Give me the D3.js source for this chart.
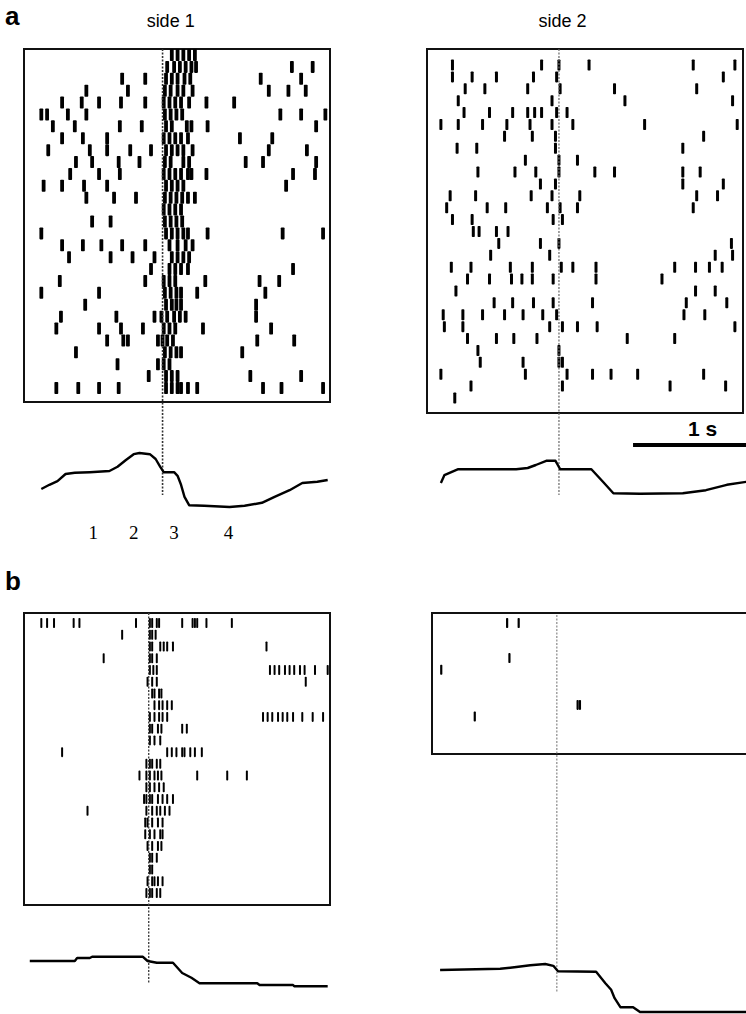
<!DOCTYPE html>
<html>
<head>
<meta charset="UTF-8">
<title>side 1 / side 2 rasters</title>
<script src="https://cdn.jsdelivr.net/npm/d3@7"></script>
<style>
body { margin: 0; background: #fff; }
svg { display: block; }
</style>
</head>
<body>
<div id="chart"></div>
<script>
// spike times in seconds, 0 = event (dotted line), one array per trial
var a1Trials = [
  [0.08,0.13,0.18,0.23,0.28],
  [0.04,0.10,0.15,0.20,0.25,0.29,1.12,1.30],
  [-0.35,-0.15,0.03,0.08,0.13,0.19,0.24,0.85,1.20],
  [-0.66,-0.30,0.02,0.07,0.13,0.18,0.26,0.92,1.09,1.24],
  [-0.87,-0.70,-0.55,-0.36,-0.15,0.01,0.06,0.11,0.16,0.23,0.38,0.62],
  [-1.05,-1.00,-0.82,-0.66,0.02,0.07,0.12,0.17,1.02,1.20,1.41],
  [-0.95,-0.76,-0.37,-0.18,0.03,0.08,0.21,0.25,0.39,1.33],
  [-0.87,-0.69,-0.48,0.01,0.06,0.11,0.16,0.22,0.67,0.95],
  [-0.99,-0.63,-0.48,-0.28,-0.10,0.03,0.08,0.13,0.18,0.26,0.92,1.25],
  [-0.75,-0.61,-0.38,-0.20,0.02,0.07,0.18,0.23,0.72,0.87,1.33],
  [-0.80,-0.55,-0.37,0.01,0.06,0.11,0.16,0.22,0.25,0.38,1.13,1.32],
  [-1.03,-0.87,-0.68,-0.48,0.03,0.08,0.13,0.18,1.07],
  [-0.66,-0.42,-0.23,0.02,0.07,0.12,0.17,0.22,0.28],
  [0.01,0.06,0.11,0.16],
  [-0.61,-0.45,0.02,0.07,0.12,0.17],
  [-1.05,0.03,0.08,0.13,0.18,0.22,0.39,1.04,1.39],
  [-0.87,-0.69,-0.53,-0.35,-0.15,0.06,0.13,0.20,0.26],
  [-0.81,-0.45,-0.26,-0.07,0.08,0.13,0.18,0.23],
  [-0.10,0.06,0.11,0.16,0.22,1.13],
  [-0.89,-0.15,0.01,0.06,0.11,0.37,0.84,1.01],
  [-1.05,-0.55,0.02,0.07,0.12,0.16,0.30,0.89],
  [-0.67,0.03,0.08,0.12,0.16,0.81],
  [-0.88,-0.40,-0.07,-0.01,0.04,0.10,0.15,0.20,0.81],
  [-0.92,-0.55,-0.36,-0.17,0.01,0.06,0.11,0.35,0.94],
  [-0.48,-0.34,-0.30,-0.04,0.00,0.04,0.09,0.82,1.14],
  [-0.75,0.02,0.07,0.12,0.16,0.69],
  [-0.39,-0.04,0.01,0.06],
  [-0.12,0.03,0.08,0.13,0.76,1.20],
  [-0.92,-0.73,-0.55,-0.38,0.03,0.08,0.13,0.16,0.22,0.30,0.87,1.03,1.39]
];
var a2Trials = [
  [-0.92,-0.15,0.00,0.26,1.16,1.52],
  [-0.92,-0.75,-0.54,-0.22,-0.02,1.42],
  [-0.81,-0.64,-0.27,0.01,0.48,1.19],
  [-0.87,-0.06,0.57,1.50],
  [-0.82,-0.60,-0.40,-0.27,-0.21,-0.15,-0.02,0.07],
  [-1.02,-0.87,-0.66,-0.45,-0.25,-0.06,0.12,0.74,1.54],
  [-0.47,-0.23,-0.03,1.25],
  [-0.88,-0.71,-0.03,1.07],
  [-0.29,0.00,0.16],
  [-0.70,-0.38,-0.20,0.00,0.31,0.48,1.07,1.22],
  [-0.16,-0.03,1.07,1.42],
  [-0.94,-0.72,-0.24,-0.06,0.18,1.19,1.37],
  [-0.97,-0.62,-0.46,-0.10,0.01,0.16,1.16],
  [-0.92,-0.75,-0.05,0.03],
  [-0.74,-0.69,-0.54,-0.44],
  [-0.52,-0.16,0.00,1.49],
  [-0.59,-0.08,1.35,1.50],
  [-0.93,-0.76,-0.42,-0.23,0.02,0.12,0.32,1.00,1.18,1.30,1.41],
  [-0.79,-0.60,-0.41,-0.32,-0.23,-0.05,0.32,0.89],
  [-0.89,1.18,1.35],
  [-0.56,-0.40,-0.22,-0.05,0.29,1.10,1.45],
  [-1.00,-0.83,-0.66,-0.47,-0.31,-0.14,-0.02,1.08,1.26],
  [-0.99,-0.83,-0.08,0.03,0.16,0.33,1.52],
  [-0.79,-0.54,-0.39,-0.19,0.59,1.00],
  [-0.70,0.00],
  [-0.68,-0.31,0.00,0.03],
  [-1.02,-0.29,0.07,0.29,0.45,0.68,1.25],
  [-0.76,0.03,0.96,1.44],
  [-0.90]
];
var b1Trials = [
  [-0.93,-0.88,-0.82,-0.65,-0.60,-0.11,0.01,0.03,0.07,0.09,0.29,0.38,0.40,0.42,0.50,0.72],
  [-0.23,0.01,0.03,0.06],
  [0.01,0.03,0.10,0.13,0.16,0.21,1.02],
  [-0.39,0.01,0.03,0.07],
  [0.01,0.04,0.07,1.05,1.09,1.13,1.18,1.22,1.26,1.31,1.35,1.44,1.55],
  [-0.01,0.03,0.07,1.36],
  [0.03,0.05,0.09,0.11],
  [0.05,0.09,0.12,0.16,0.20],
  [0.01,0.05,0.09,0.12,0.16,0.99,1.03,1.07,1.12,1.16,1.20,1.25,1.33,1.42,1.51],
  [0.01,0.03,0.08,0.11,0.29,0.33],
  [0.01,0.05,0.10],
  [-0.75,0.16,0.20,0.24,0.29,0.31,0.36,0.40,0.46],
  [-0.02,0.01,0.03,0.07,0.10],
  [-0.08,-0.02,0.01,0.05,0.08,0.11,0.42,0.68,0.85],
  [-0.02,0.01,0.05,0.09,0.13],
  [-0.04,-0.02,0.01,0.03,0.08,0.12,0.16,0.21],
  [-0.53,-0.02,0.03,0.07,0.10,0.14,0.18],
  [-0.03,-0.01,0.03,0.08,0.12],
  [-0.03,0.01,0.05,0.10,0.12],
  [-0.01,0.03,0.08,0.11],
  [0.01,0.03,0.07],
  [0.01,0.03],
  [-0.01,0.03,0.05,0.08,0.12],
  [-0.02,0.01,0.03,0.07,0.10]
];
var b2Trials = [
  [-0.43,-0.33], [], [], [-0.41], [-1.00], [], [], [0.18,0.20], [-0.71], [], []
];

// averaged traces below the rasters: time (s) and relative level (0..1)
var a1TraceT = [-1.05,-0.98,-0.91,-0.84,-0.76,-0.63,-0.46,-0.39,-0.32,-0.25,-0.20,-0.11,-0.06,-0.02,0.01,0.10,0.13,0.16,0.19,0.23,0.36,0.58,0.71,0.86,0.97,1.10,1.21,1.34,1.43];
var a1TraceV = [0.35,0.42,0.48,0.60,0.62,0.63,0.65,0.72,0.83,0.93,0.95,0.93,0.85,0.72,0.63,0.63,0.57,0.42,0.22,0.08,0.07,0.05,0.07,0.12,0.22,0.33,0.45,0.47,0.50];
var a2TraceT = [-1.02,-0.99,-0.87,-0.63,-0.37,-0.27,-0.20,-0.11,-0.03,-0.01,0.01,0.28,0.38,0.47,0.70,1.07,1.27,1.45,1.62,1.70];
var a2TraceV = [0.45,0.58,0.68,0.68,0.68,0.70,0.75,0.82,0.82,0.75,0.68,0.68,0.47,0.28,0.27,0.28,0.33,0.42,0.47,0.48];
var b1TraceT = [-1.03,-0.64,-0.62,-0.51,-0.49,-0.25,-0.05,-0.01,0.07,0.21,0.29,0.37,0.44,0.94,0.96,1.25,1.26,1.55];
var b1TraceV = [0.90,0.90,0.95,0.95,0.97,0.97,0.97,0.90,0.87,0.87,0.70,0.62,0.53,0.53,0.50,0.50,0.48,0.48];
var b2TraceT = [-1.01,-0.49,-0.35,-0.23,-0.10,-0.03,0.01,0.34,0.42,0.47,0.50,0.55,0.66,0.72,1.70];
var b2TraceV = [0.75,0.77,0.80,0.83,0.85,0.82,0.73,0.72,0.53,0.42,0.28,0.13,0.13,0.05,0.05];

var phaseLabels = ["1", "2", "3", "4"];
var phaseTimes = [-0.60, -0.25, 0.10, 0.57];
var scaleBar = {start: 0.64, len: 1, label: "1 s"};

var W = 746, H = 1014;
var svg = d3.select("#chart").append("svg")
  .attr("width", W).attr("height", H);

// one entry per raster: layout of box, rows, dotted line and trace band
var panels = [
  {trials: a1Trials, xd: [-1.20, 1.45], xr: [24, 330], box: [49, 402], rows: [55, 388], tick: [3.8, 12],
   dash: [49, 495], dashColor: "#333", dashW: 1.6, tT: a1TraceT, tV: a1TraceV, band: [510, 450]},
  {trials: a2Trials, xd: [-1.14, 1.59], xr: [427, 743], box: [49, 413], rows: [65, 398], tick: [3, 11],
   dash: [49, 495], dashColor: "#666", dashW: 1.2, tT: a2TraceT, tV: a2TraceV, band: [510, 450]},
  {trials: b1Trials, xd: [-1.08, 1.57], xr: [24, 330], box: [613, 905], rows: [623, 893], tick: [2, 10],
   dash: [613, 983], dashColor: "#444", dashW: 1.4, tT: b1TraceT, tV: b1TraceV, band: [1015, 955]},
  {trials: b2Trials, xd: [-1.08, 1.68], xr: [432, 751], box: [613, 754], rows: [623, 740], tick: [2.2, 10],
   dash: [615, 992], dashColor: "#888", dashW: 1.2, tT: b2TraceT, tV: b2TraceV, band: [1015, 955]}
];

panels.forEach(function(p) {
  var x = d3.scaleLinear().domain(p.xd).range(p.xr);
  var y = d3.scaleLinear().domain([0, p.trials.length - 1]).range(p.rows);
  var ty = d3.scaleLinear().domain([0, 1]).range(p.band);
  p.x = x;

  var g = svg.append("g");

  // box
  g.append("rect")
    .attr("x", p.xr[0]).attr("y", p.box[0])
    .attr("width", p.xr[1] - p.xr[0]).attr("height", p.box[1] - p.box[0])
    .attr("fill", "none").attr("stroke", "#111").attr("stroke-width", 2);

  // spikes
  var spikes = [];
  p.trials.forEach(function(ts, i) {
    ts.forEach(function(t) { spikes.push({trial: i, t: t}); });
  });
  g.selectAll(".spike")
    .data(spikes)
    .enter()
    .append("rect")
    .attr("class", "spike")
    .attr("x", function(d) { return x(d.t) - p.tick[0] / 2; })
    .attr("y", function(d) { return y(d.trial) - p.tick[1] / 2; })
    .attr("width", p.tick[0])
    .attr("height", p.tick[1])
    .attr("rx", 0.8)
    .attr("fill", "#000");

  // event line
  g.append("line")
    .attr("x1", x(0)).attr("x2", x(0))
    .attr("y1", p.dash[0]).attr("y2", p.dash[1])
    .attr("stroke", p.dashColor).attr("stroke-width", p.dashW)
    .attr("stroke-dasharray", "2,1.5");

  // trace
  var line = d3.line()
    .x(function(d) { return x(d[0]); })
    .y(function(d) { return ty(d[1]); });
  g.append("path")
    .datum(d3.zip(p.tT, p.tV))
    .attr("d", line)
    .attr("fill", "none")
    .attr("stroke", "#000")
    .attr("stroke-width", 2.4)
    .attr("stroke-linejoin", "round");
});

// panel letters and titles
svg.append("text").attr("x", 5).attr("y", 25).text("a")
  .style("font-family", "Liberation Sans, Arial, sans-serif").style("font-weight", "bold").style("font-size", "26px");
svg.append("text").attr("x", 5).attr("y", 590).text("b")
  .style("font-family", "Liberation Sans, Arial, sans-serif").style("font-weight", "bold").style("font-size", "26px");
svg.append("text").attr("x", panels[0].x(0.07)).attr("y", 27).attr("text-anchor", "middle").text("side 1")
  .style("font-family", "Liberation Sans, Arial, sans-serif").style("font-size", "18px");
svg.append("text").attr("x", panels[1].x(0.03)).attr("y", 27).attr("text-anchor", "middle").text("side 2")
  .style("font-family", "Liberation Sans, Arial, sans-serif").style("font-size", "18px");

// phase numbers under the side 1 trace
svg.selectAll(".phase")
  .data(phaseLabels)
  .enter()
  .append("text")
  .attr("class", "phase")
  .attr("x", function(d, i) { return panels[0].x(phaseTimes[i]); })
  .attr("y", 539)
  .attr("text-anchor", "middle")
  .text(function(d) { return d; })
  .style("font-family", "Liberation Serif, Times New Roman, serif")
  .style("font-size", "19px");

// 1 s scale bar
var xs = panels[1].x;
svg.append("line")
  .attr("x1", xs(scaleBar.start)).attr("x2", xs(scaleBar.start + scaleBar.len))
  .attr("y1", 445).attr("y2", 445)
  .attr("stroke", "#000").attr("stroke-width", 4);
svg.append("text")
  .attr("x", xs(scaleBar.start + 0.6)).attr("y", 436)
  .attr("text-anchor", "middle").text(scaleBar.label)
  .style("font-family", "Liberation Sans, Arial, sans-serif").style("font-weight", "bold").style("font-size", "21px");
</script>
</body>
</html>
